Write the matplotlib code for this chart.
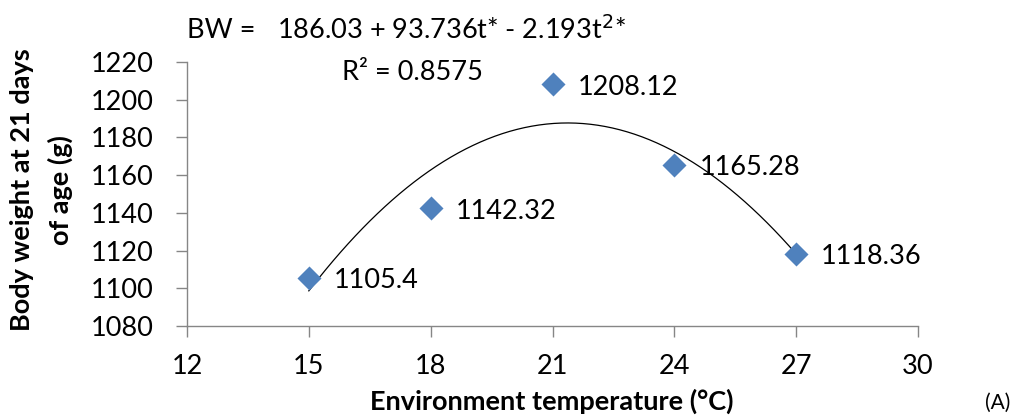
import numpy as np
import matplotlib
matplotlib.use("Agg")
import matplotlib.pyplot as plt

plt.rcParams['font.family'] = ['Lato', 'DejaVu Sans']

temps = [15, 18, 21, 24, 27]
weights = [1105.4, 1142.32, 1208.12, 1165.28, 1118.36]
labels = ["1105.4", "1142.32", "1208.12", "1165.28", "1118.36"]
xticks = [12, 15, 18, 21, 24, 27, 30]
yticks = [1080, 1100, 1120, 1140, 1160, 1180, 1200, 1220]

FS = 19.5
W, H = 1014, 415
fig = plt.figure(figsize=(W / 100, H / 100), dpi=100)
ax = fig.add_axes([187 / W, 1 - 326 / H, (918 - 187) / W, (326 - 62) / H])

# quadratic trendline
coef = np.polyfit(temps, weights, 2)
xs = np.linspace(min(temps), max(temps), 200)
ax.plot(xs, np.polyval(coef, xs), color='black', lw=0.9, zorder=2)

ax.scatter(temps, weights, marker='D', s=150, color='#4F81BD', zorder=3, linewidths=0)
for t, w, lab in zip(temps, weights, labels):
    ax.annotate(lab, (t, w), xytext=(18, -2), textcoords='offset points',
                ha='left', va='center', fontsize=FS, color='black')

ax.set_xlim(12, 30)
ax.set_ylim(1080, 1220)
ax.set_xticks(xticks)
ax.set_yticks(yticks)
ax.tick_params(axis='both', direction='out', length=8, width=1, color='#868686',
               labelsize=FS)
ax.tick_params(axis='y', pad=16)
ax.tick_params(axis='x', pad=12)
for s in ['top', 'right']:
    ax.spines[s].set_visible(False)
for s in ['left', 'bottom']:
    ax.spines[s].set_color('#868686')
    ax.spines[s].set_linewidth(1)

fig.text(552 / W, 1 - 401 / H, "Environment temperature (°C)", fontsize=FS,
         fontweight='bold', ha='center', va='center')
fig.text(22 / W, 1 - 190 / H, "Body weight at 21 days", fontsize=FS,
         fontweight='bold', ha='center', va='center', rotation=90)
fig.text(60 / W, 1 - 190 / H, "of age (g)", fontsize=FS,
         fontweight='bold', ha='center', va='center', rotation=90)

fig.text(187 / W, 1 - 30 / H, "BW =", fontsize=FS, ha='left', va='center')
fig.text(277 / W, 1 - 30 / H, "186.03 + 93.736t* - 2.193t$^{2}$*", fontsize=FS,
         ha='left', va='center')
fig.text(342 / W, 1 - 72 / H, "R² = 0.8575", fontsize=FS, ha='left', va='center')
fig.text(1010 / W, 1 - 403 / H, "(A)", fontsize=15, ha='right', va='center')

fig.savefig("out.png", dpi=100)
